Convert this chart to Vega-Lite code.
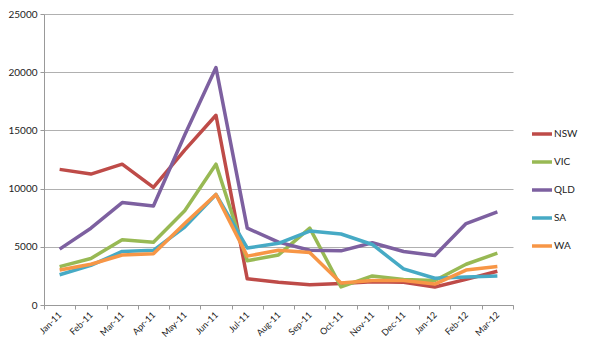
{
  "$schema": "https://vega.github.io/schema/vega-lite/v6.json",
  "width": 469,
  "height": 291,
  "autosize": {"type": "none"},
  "padding": {"left": 44, "top": 14, "right": 77, "bottom": 47},
  "background": "white",
  "config": {
    "view": {"stroke": null},
    "font": "Lato"
  },
  "data": {
    "values": [
      {"month": "Jan-11", "state": "NSW", "value": 11650},
      {"month": "Feb-11", "state": "NSW", "value": 11250},
      {"month": "Mar-11", "state": "NSW", "value": 12100},
      {"month": "Apr-11", "state": "NSW", "value": 10100},
      {"month": "May-11", "state": "NSW", "value": 13300},
      {"month": "Jun-11", "state": "NSW", "value": 16300},
      {"month": "Jul-11", "state": "NSW", "value": 2250},
      {"month": "Aug-11", "state": "NSW", "value": 1950},
      {"month": "Sep-11", "state": "NSW", "value": 1750},
      {"month": "Oct-11", "state": "NSW", "value": 1850},
      {"month": "Nov-11", "state": "NSW", "value": 2000},
      {"month": "Dec-11", "state": "NSW", "value": 1950},
      {"month": "Jan-12", "state": "NSW", "value": 1550},
      {"month": "Feb-12", "state": "NSW", "value": 2200},
      {"month": "Mar-12", "state": "NSW", "value": 2900},
      {"month": "Jan-11", "state": "VIC", "value": 3300},
      {"month": "Feb-11", "state": "VIC", "value": 4000},
      {"month": "Mar-11", "state": "VIC", "value": 5600},
      {"month": "Apr-11", "state": "VIC", "value": 5400},
      {"month": "May-11", "state": "VIC", "value": 8100},
      {"month": "Jun-11", "state": "VIC", "value": 12100},
      {"month": "Jul-11", "state": "VIC", "value": 3800},
      {"month": "Aug-11", "state": "VIC", "value": 4300},
      {"month": "Sep-11", "state": "VIC", "value": 6600},
      {"month": "Oct-11", "state": "VIC", "value": 1550},
      {"month": "Nov-11", "state": "VIC", "value": 2500},
      {"month": "Dec-11", "state": "VIC", "value": 2200},
      {"month": "Jan-12", "state": "VIC", "value": 2100},
      {"month": "Feb-12", "state": "VIC", "value": 3500},
      {"month": "Mar-12", "state": "VIC", "value": 4450},
      {"month": "Jan-11", "state": "QLD", "value": 4800},
      {"month": "Feb-11", "state": "QLD", "value": 6600},
      {"month": "Mar-11", "state": "QLD", "value": 8800},
      {"month": "Apr-11", "state": "QLD", "value": 8500},
      {"month": "May-11", "state": "QLD", "value": 14600},
      {"month": "Jun-11", "state": "QLD", "value": 20400},
      {"month": "Jul-11", "state": "QLD", "value": 6600},
      {"month": "Aug-11", "state": "QLD", "value": 5400},
      {"month": "Sep-11", "state": "QLD", "value": 4700},
      {"month": "Oct-11", "state": "QLD", "value": 4650},
      {"month": "Nov-11", "state": "QLD", "value": 5350},
      {"month": "Dec-11", "state": "QLD", "value": 4600},
      {"month": "Jan-12", "state": "QLD", "value": 4250},
      {"month": "Feb-12", "state": "QLD", "value": 7000},
      {"month": "Mar-12", "state": "QLD", "value": 8000},
      {"month": "Jan-11", "state": "SA", "value": 2600},
      {"month": "Feb-11", "state": "SA", "value": 3400},
      {"month": "Mar-11", "state": "SA", "value": 4600},
      {"month": "Apr-11", "state": "SA", "value": 4700},
      {"month": "May-11", "state": "SA", "value": 6700},
      {"month": "Jun-11", "state": "SA", "value": 9500},
      {"month": "Jul-11", "state": "SA", "value": 4900},
      {"month": "Aug-11", "state": "SA", "value": 5300},
      {"month": "Sep-11", "state": "SA", "value": 6350},
      {"month": "Oct-11", "state": "SA", "value": 6100},
      {"month": "Nov-11", "state": "SA", "value": 5200},
      {"month": "Dec-11", "state": "SA", "value": 3100},
      {"month": "Jan-12", "state": "SA", "value": 2300},
      {"month": "Feb-12", "state": "SA", "value": 2400},
      {"month": "Mar-12", "state": "SA", "value": 2500},
      {"month": "Jan-11", "state": "WA", "value": 3000},
      {"month": "Feb-11", "state": "WA", "value": 3500},
      {"month": "Mar-11", "state": "WA", "value": 4300},
      {"month": "Apr-11", "state": "WA", "value": 4400},
      {"month": "May-11", "state": "WA", "value": 7000},
      {"month": "Jun-11", "state": "WA", "value": 9500},
      {"month": "Jul-11", "state": "WA", "value": 4200},
      {"month": "Aug-11", "state": "WA", "value": 4700},
      {"month": "Sep-11", "state": "WA", "value": 4500},
      {"month": "Oct-11", "state": "WA", "value": 1900},
      {"month": "Nov-11", "state": "WA", "value": 2100},
      {"month": "Dec-11", "state": "WA", "value": 2100},
      {"month": "Jan-12", "state": "WA", "value": 1800},
      {"month": "Feb-12", "state": "WA", "value": 3000},
      {"month": "Mar-12", "state": "WA", "value": 3300}
    ]
  },
  "mark": {"type": "line", "strokeWidth": 3.5, "strokeJoin": "round"},
  "encoding": {
    "x": {
      "field": "month",
      "type": "ordinal",
      "sort": null,
      "bandPosition": 0.5,
      "scale": {"type": "band", "paddingInner": 0, "paddingOuter": 0},
      "axis": {
        "title": null,
        "labelAngle": -45,
        "labelAlign": "right",
        "labelBaseline": "middle",
        "labelFontSize": 9,
        "labelColor": "#222",
        "labelPadding": 4,
        "tickBand": "extent",
        "tickSize": 4,
        "tickColor": "#999",
        "domainColor": "#999",
        "grid": false
      }
    },
    "y": {
      "field": "value",
      "type": "quantitative",
      "scale": {"domain": [0, 25000]},
      "axis": {
        "title": null,
        "values": [0, 5000, 10000, 15000, 20000, 25000],
        "format": "d",
        "labelFontSize": 10,
        "labelColor": "#222",
        "labelPadding": 3,
        "tickSize": 4,
        "tickColor": "#999",
        "domainColor": "#999",
        "gridColor": "#b0b0b0",
        "grid": true
      }
    },
    "color": {
      "field": "state",
      "type": "nominal",
      "sort": ["NSW", "VIC", "QLD", "SA", "WA"],
      "scale": {
        "domain": ["NSW", "VIC", "QLD", "SA", "WA"],
        "range": ["#BE4B48", "#98B954", "#7D60A0", "#46AAC5", "#F79646"]
      },
      "legend": {
        "title": null,
        "orient": "none",
        "legendX": 486,
        "legendY": 108,
        "symbolType": "stroke",
        "symbolStrokeWidth": 3.5,
        "symbolSize": 400,
        "labelFontSize": 10,
        "labelColor": "#222",
        "labelOffset": 0,
        "rowPadding": 9
      }
    }
  }
}
